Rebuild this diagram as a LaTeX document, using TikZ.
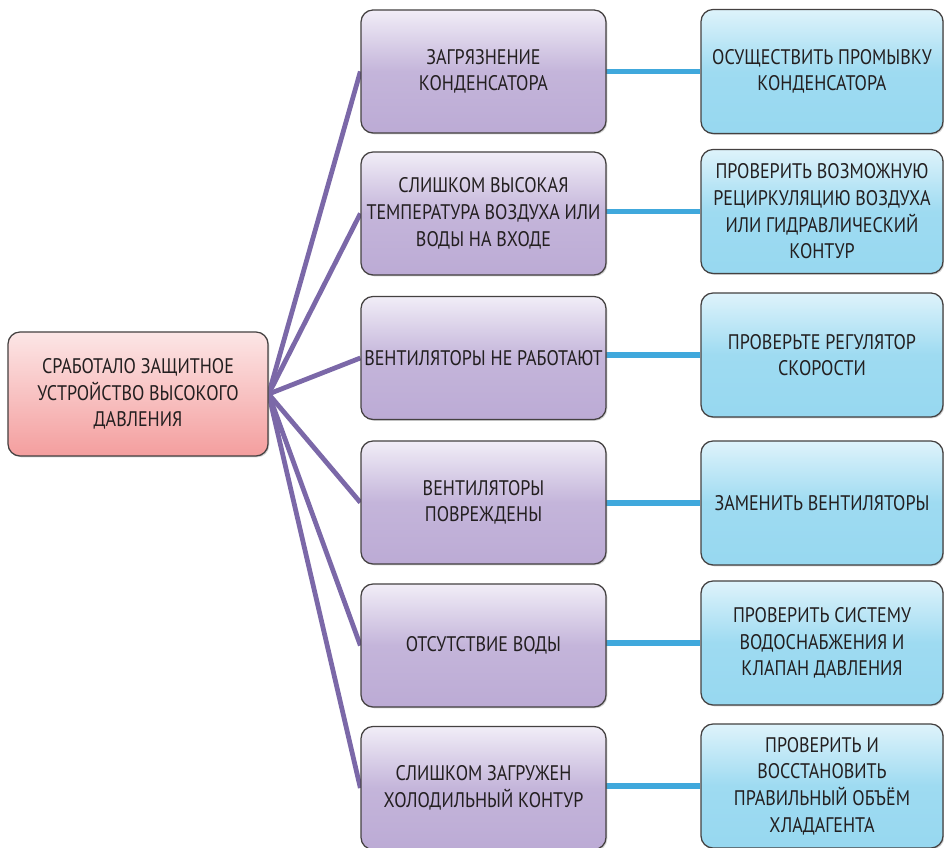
\documentclass[tikz,border=0pt]{standalone}
\usepackage{fontspec}
\setmainfont{PT Sans}[FakeStretch=0.855]
\usetikzlibrary{backgrounds, shadows}
\definecolor{rtop}{RGB}{252,230,230}
\definecolor{rbot}{RGB}{244,158,158}
\definecolor{ptop}{RGB}{241,237,247}
\definecolor{pbot}{RGB}{188,171,213}
\definecolor{btop}{RGB}{222,243,251}
\definecolor{bbot}{RGB}{151,216,240}
\definecolor{pline}{RGB}{123,104,168}
\definecolor{bline}{RGB}{64,168,220}
\definecolor{ink}{RGB}{35,31,32}

\begin{document}
\begin{tikzpicture}[
  box/.style={rectangle,rounded corners=0.3cm,draw=ink!85,line width=0.9pt,
              text=ink,font=\fontsize{15}{19}\selectfont,align=center,inner sep=1pt,
              drop shadow={shadow xshift=0.9pt,shadow yshift=-0.9pt,opacity=0.35}},
  rootbox/.style={box,top color=rtop,bottom color=rbot,minimum width=6.5cm,minimum height=3.1cm},
  cause/.style={box,top color=ptop,bottom color=pbot,middle color=pbot!85!ptop,
                minimum width=6.125cm,minimum height=3.075cm},
  fix/.style={box,top color=btop,bottom color=bbot,middle color=bbot!90!btop,
              minimum width=6.05cm,minimum height=3.1cm},
  plink/.style={pline,line width=3.4pt},
  blink/.style={bline,line width=4.2pt}
]
\useasboundingbox (0,0) rectangle (23.6,-21.2);

\node[rootbox] (root) at (3.45,-9.85) {СРАБОТАЛО ЗАЩИТНОЕ\\УСТРОЙСТВО ВЫСОКОГО\\ДАВЛЕНИЯ};

\node[cause] (c1) at (12.0875,-1.7875)  {ЗАГРЯЗНЕНИЕ\\КОНДЕНСАТОРА};
\node[cause] (c2) at (12.0875,-5.3375)  {СЛИШКОМ ВЫСОКАЯ\\ТЕМПЕРАТУРА ВОЗДУХА ИЛИ\\ВОДЫ НА ВХОДЕ};
\node[cause] (c3) at (12.0875,-8.95)    {ВЕНТИЛЯТОРЫ НЕ РАБОТАЮТ};
\node[cause] (c4) at (12.0875,-12.5625) {ВЕНТИЛЯТОРЫ\\ПОВРЕЖДЕНЫ};
\node[cause] (c5) at (12.0875,-16.1375) {ОТСУТСТВИЕ ВОДЫ};
\node[cause] (c6) at (12.0875,-19.7)    {СЛИШКОМ ЗАГРУЖЕН\\ХОЛОДИЛЬНЫЙ КОНТУР};

\node[fix] (a1) at (20.55,-1.7875) {ОСУЩЕСТВИТЬ ПРОМЫВКУ\\КОНДЕНСАТОРА};
\node[fix] (a2) at (20.55,-5.2875) {ПРОВЕРИТЬ ВОЗМОЖНУЮ\\РЕЦИРКУЛЯЦИЮ ВОЗДУХА\\ИЛИ ГИДРАВЛИЧЕСКИЙ\\КОНТУР};
\node[fix] (a3) at (20.55,-8.875)  {ПРОВЕРЬТЕ РЕГУЛЯТОР\\СКОРОСТИ};
\node[fix] (a4) at (20.55,-12.575) {ЗАМЕНИТЬ ВЕНТИЛЯТОРЫ};
\node[fix] (a5) at (20.55,-16.075) {ПРОВЕРИТЬ СИСТЕМУ\\ВОДОСНАБЖЕНИЯ И\\КЛАПАН ДАВЛЕНИЯ};
\node[fix] (a6) at (20.55,-19.65)  {ПРОВЕРИТЬ И\\ВОССТАНОВИТЬ\\ПРАВИЛЬНЫЙ ОБЪЁМ\\ХЛАДАГЕНТА};

% links sit behind the boxes
\begin{scope}[on background layer]
\draw[plink] (root.east) -- (c1.west);
\draw[plink] (root.east) -- (c2.west);
\draw[plink] (root.east) -- (c3.west);
\draw[plink] (root.east) -- (c4.west);
\draw[plink] (root.east) -- (c5.west);
\draw[plink] (root.east) -- (c6.west);
\draw[blink] (a1) -- (a1 -| c1);
\draw[blink] (a2) -- (a2 -| c2);
\draw[blink] (a3) -- (a3 -| c3);
\draw[blink] (a4) -- (a4 -| c4);
\draw[blink] (a5) -- (a5 -| c5);
\draw[blink] (a6) -- (a6 -| c6);
\end{scope}
\end{tikzpicture}
\end{document}
